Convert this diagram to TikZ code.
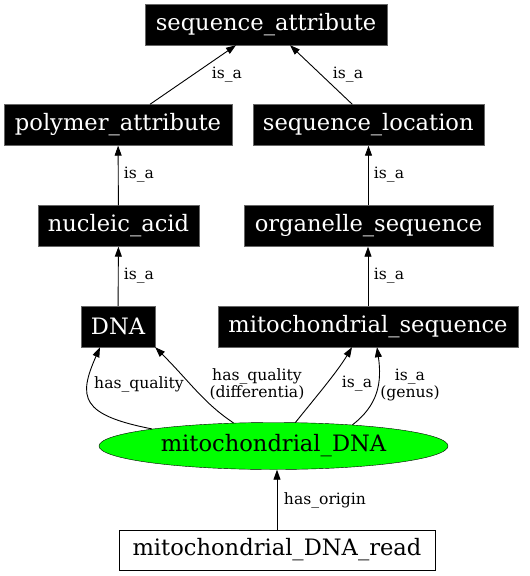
\documentclass[tikz,border=0pt]{standalone}
\usepackage{fontspec}
\setmainfont{DejaVu Serif}
\usetikzlibrary{arrows.meta,shapes.geometric}

\begin{document}
\begin{tikzpicture}[x=1pt,y=-1pt,
  every node/.style={font=\fontsize{15.6}{17}\selectfont},
  term/.style={draw=black!60,fill=black,text=white,inner sep=0pt,minimum height=41pt,font=\fontsize{22.6}{26}\selectfont},
  rel/.style={draw,line width=0.9pt,-{Triangle[length=10pt,width=7pt]}},
  lbl/.style={inner sep=0pt,align=center}]
\useasboundingbox (0,0) rectangle (530,576);
% Ontology graph for mitochondrial_DNA
\node[term,minimum width=242pt] (seqattr) at (266,24.5) {sequence\_attribute};
\node[term,minimum width=228pt] (polyattr) at (118,125) {polymer\_attribute};
\node[term,minimum width=231pt] (seqloc) at (368.3,125) {sequence\_location};
\node[term,minimum width=161pt] (nucacid) at (118.5,226) {nucleic\_acid};
\node[term,minimum width=249pt] (orgseq) at (368.5,226) {organelle\_sequence};
\node[term,minimum width=74pt] (dna) at (118,326.5) {DNA};
\node[term,minimum width=300pt] (mitoseq) at (368,326.5) {mitochondrial\_sequence};
\node[draw,ellipse,fill={rgb,255:red,0;green,255;blue,0},inner sep=0pt,minimum width=349pt,minimum height=47pt,font=\fontsize{22.6}{26}\selectfont] (mdna) at (273.5,446) {mitochondrial\_DNA};
\node[draw,fill=white,inner sep=0pt,minimum width=316pt,minimum height=40pt,font=\fontsize{22.6}{26}\selectfont] (mread) at (277,550) {mitochondrial\_DNA\_read};
\draw[rel] ([xshift=32pt]polyattr.north) -- ([xshift=-30pt]seqattr.south);
\draw[rel] ([xshift=-16pt]seqloc.north) -- ([xshift=24pt]seqattr.south);
\draw[rel] (nucacid) -- (polyattr);
\draw[rel] (orgseq.north) -- (orgseq.north |- seqloc.south);
\draw[rel] (dna) -- (nucacid);
\draw[rel] (mitoseq.north) -- (mitoseq.north |- orgseq.south);
\draw[rel] (mdna.172) .. controls +(-72,-14) and +(-22,50) .. ([xshift=-18pt]dna.south);
\draw[rel] (mdna.150.6) .. controls +(-30,-20) and +(35,35) .. (dna.south east);
\draw[rel] (mdna.47.3) .. controls +(20,-25) and +(-15,25) .. ([xshift=-16pt]mitoseq.south);
\draw[rel] (mdna.15.4) .. controls +(26,-20) and +(5,35) .. ([xshift=9pt]mitoseq.south);
\draw[rel] (mread.north) -- (mread.north |- mdna.south);
\node[lbl] (l1) at (227,75) {is\_a};
\node[lbl] (l2) at (348,75) {is\_a};
\node[lbl] (l3) at (139,175) {is\_a};
\node[lbl] (l4) at (389,175) {is\_a};
\node[lbl] (l5) at (139,276) {is\_a};
\node[lbl] (l6) at (389,276) {is\_a};
\node[lbl] (l7) at (139,384) {has\_quality};
\node[lbl] (l8) at (257,384.5) {has\_quality\\(differentia)};
\node[lbl] (l9) at (357,384) {is\_a};
\node[lbl] (l10) at (410,384.5) {is\_a\\(genus)};
\node[lbl] (l11) at (325,500) {has\_origin};
\end{tikzpicture}
\end{document}
